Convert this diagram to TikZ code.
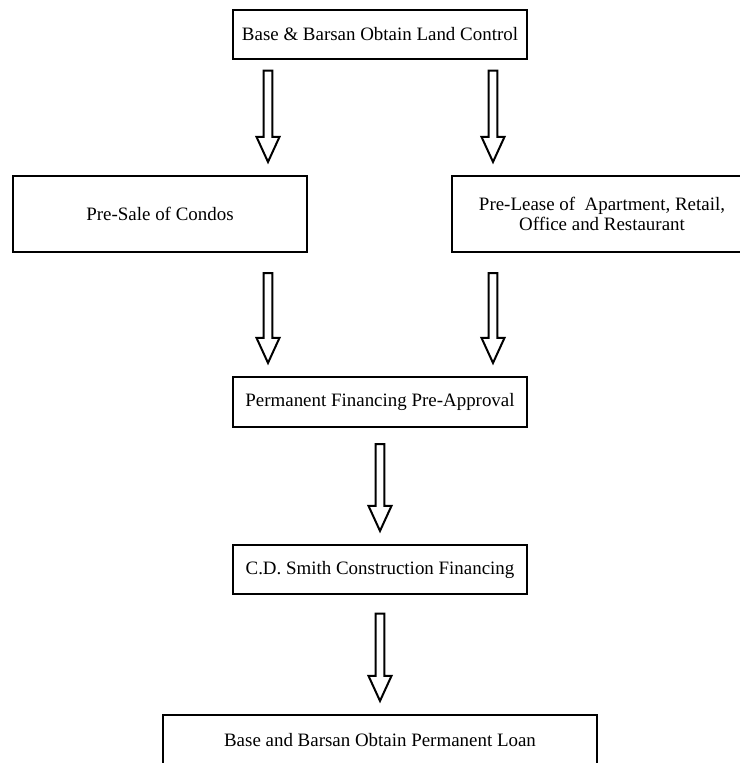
\documentclass[tikz,border=0pt]{standalone}
\usepackage{fontspec}
\setmainfont{Liberation Serif}
\usepackage{tikz}
\usetikzlibrary{calc}

\tikzset{
    stepbox/.style={draw, line width=1.6pt, rectangle, align=center, inner sep=2pt,
        minimum width=220.5pt, minimum height=36.75pt, font=\fontsize{14.2}{15}\selectfont},
    fatarrow/.style={draw, line width=1.5pt, line join=miter,
        to path={let \p1=(\tikztostart), \p2=(\tikztotarget) in
            (\x1-3.3pt,\y1-#1) -- (\x1-3.3pt,\y2+28.5pt) -- (\x1-8.6pt,\y2+28.5pt)
            -- (\x1,\y2+9.75pt) -- (\x1+8.6pt,\y2+28.5pt) -- (\x1+3.3pt,\y2+28.5pt)
            -- (\x1+3.3pt,\y1-#1) -- cycle}},
    fatarrow/.default=12pt
}

\begin{document}
\begin{tikzpicture}[x=0.75pt, y=0.75pt]
    \useasboundingbox (0,0) rectangle (739,-763);
    % boxes
    \node [stepbox] (land) at (380,-34.5) {Base \& Barsan Obtain Land Control};
    \node [stepbox, minimum height=57pt] (presale) at (160,-214) {Pre-Sale of Condos};
    \node [stepbox, minimum width=225pt, minimum height=57pt] (prelease) at (602,-214) {Pre-Lease of\ \ Apartment, Retail,\\Office and Restaurant};
    \node [stepbox, minimum height=37.5pt] (perm) at (380,-402) {Permanent Financing Pre-Approval};
    \node [stepbox] (cdsmith) at (380,-569.5) {C.D. Smith Construction Financing};
    \node [stepbox, minimum width=325.5pt, minimum height=37.5pt] (loan) at (380,-740) {Base and Barsan Obtain Permanent Loan};
    % arrow columns
    \coordinate (colL) at (268,0);
    \coordinate (colR) at (493,0);
    \draw [fatarrow=8pt] (colL |- land.south) to (colL |- presale.north);
    \draw [fatarrow=8pt] (colR |- land.south) to (colR |- prelease.north);
    \draw [fatarrow=15pt] (colL |- presale.south) to (colL |- perm.north);
    \draw [fatarrow=15pt] (colR |- prelease.south) to (colR |- perm.north);
    \draw [fatarrow] (perm.south) to (cdsmith.north);
    \draw [fatarrow=14pt] (cdsmith.south) to (loan.north);
\end{tikzpicture}
\end{document}
